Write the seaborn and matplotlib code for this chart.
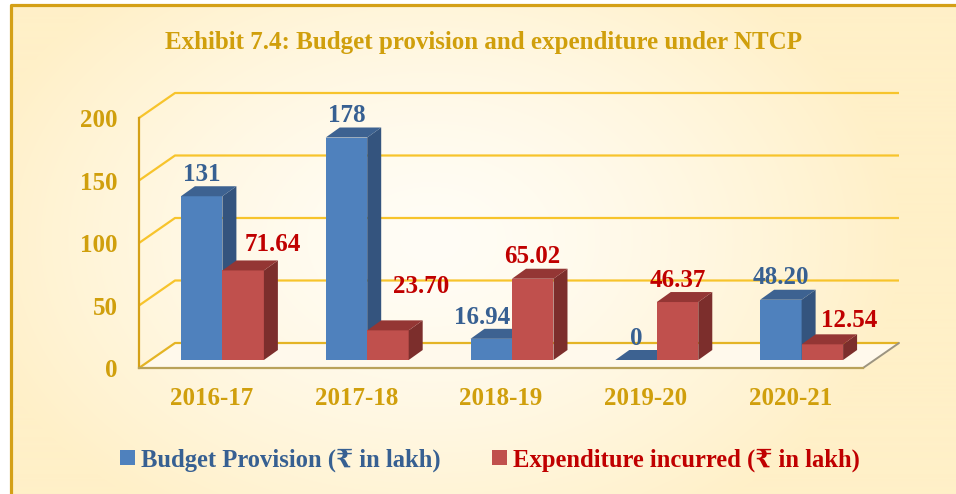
"""
Exhibit 7.4: Budget provision and expenditure under NTCP
Pseudo-3D clustered bars (Excel style) built on top of a seaborn barplot.
"""

import numpy as np
import pandas as pd
import matplotlib.pyplot as plt
import seaborn as sns
from matplotlib.patches import Polygon, Rectangle

# =============================================================================
# DATA
# =============================================================================
years = ["2016-17", "2017-18", "2018-19", "2019-20", "2020-21"]
budget = [131, 178, 16.94, 0, 48.20]
expenditure = [71.64, 23.70, 65.02, 46.37, 12.54]
budget_text = ["131", "178", "16.94", "0", "48.20"]
expend_text = ["71.64", "23.70", "65.02", "46.37", "12.54"]
series = ["Budget Provision (₹ in lakh)", "Expenditure incurred (₹ in lakh)"]
y_ticks = [0, 50, 100, 150, 200]
title = "Exhibit 7.4: Budget provision and expenditure under NTCP"

# hand-placed label nudges from the source chart (pixels)
budget_nudge = [(0, -2), (0, -2), (-9, -3), (0, -2), (0, -2)]
expend_nudge = [(30, 2), (33, 20), (0, -2), (0, -2), (27, 0)]

# =============================================================================
# STYLE
# =============================================================================
GOLD = "#D09F0C"
GRID = "#F7C42C"
BLUE, BLUE_SIDE, BLUE_TOP = "#4F81BD", "#34547E", "#3D6291"
RED, RED_SIDE, RED_TOP = "#C0504D", "#7C2E2C", "#943634"
BLUE_TXT, RED_TXT = "#376092", "#C00000"
FS = 18

W, H, DPI = 956, 494, 100
sns.set_style("white")
plt.rcParams["font.family"] = ["Liberation Serif", "DejaVu Serif", "DejaVu Sans"]
plt.rcParams["font.weight"] = "bold"

fig = plt.figure(figsize=(W / DPI, H / DPI), dpi=DPI)

# background: cream panel with a soft light centre and a gold frame
bg = fig.add_axes([0, 0, 1, 1], zorder=-10)
yy, xx = np.mgrid[0:H, 0:W]
r = np.sqrt(((xx - 430) / 470) ** 2 + ((yy - 240) / 330) ** 2)
t = np.clip(r, 0, 1)[..., None] ** 1.4
c_in = np.array([255, 253, 246]) / 255
c_out = np.array([255, 240, 200]) / 255
img = c_in * (1 - t) + c_out * t
img[(xx < 11) | (yy < 5)] = 1.0
bg.imshow(img, extent=(0, W, H, 0), aspect="auto")
bg.plot([11.5, 11.5, W + 5], [H + 5, 5.5, 5.5], color="#D4A017", lw=2.3)
bg.set_xlim(0, W)
bg.set_ylim(H, 0)
bg.axis("off")

# front plane of the chart
x0_px, x1_px, y0_px, y1_px = 139, 863, 368, 118
ax = fig.add_axes([x0_px / W, 1 - y0_px / H, (x1_px - x0_px) / W, (y0_px - y1_px) / H])
ax.patch.set_alpha(0)

df = pd.DataFrame({
    "Year": years * 2,
    "Value": budget + expenditure,
    "Series": [series[0]] * len(years) + [series[1]] * len(years),
})
sns.barplot(data=df, x="Year", y="Value", hue="Series", palette=[BLUE, RED],
            width=0.573, saturation=1, errorbar=None, linewidth=0, legend=False, ax=ax)

ax.set_xlim(-0.5, len(years) - 0.5)
ax.set_ylim(0, 200)
ppx = (x1_px - x0_px) / len(years)   # pixels per category
ppy = (y0_px - y1_px) / 200          # pixels per unit

# depth offsets in data units
shift = (11 / ppx, 8 / ppy)      # bars sit slightly behind the front edge
depth = (14 / ppx, 10 / ppy)     # bar depth
wall = (36 / ppx, 25 / ppy)      # back wall

# back wall grid + floor
xl, xr = -0.5, len(years) - 0.5
floor = Polygon([(xl, 0), (xr, 0), (xr + wall[0], wall[1]), (xl + wall[0], wall[1])],
                closed=True, fc="#FFF9EC", ec="none", zorder=0.5, clip_on=False)
ax.add_patch(floor)
for v in y_ticks:
    ax.plot([xl, xl + wall[0], xr + wall[0]], [v, v + wall[1], v + wall[1]],
            color=GRID if v else "#E4B425", lw=1.6, zorder=1, clip_on=False,
            solid_capstyle="butt")
ax.plot([xr, xr + wall[0]], [0, wall[1]], color="#9C9480", lw=1.4, zorder=1, clip_on=False)

# 3D faces on each bar
faces = [(BLUE_SIDE, BLUE_TOP), (RED_SIDE, RED_TOP)]
bar_pos = [[], []]
for j, cont in enumerate(ax.containers):
    side_c, top_c = faces[j]
    for i, p in enumerate(cont.patches):
        bx = p.get_x() + shift[0]
        p.set_x(bx)
        p.set_y(shift[1])
        w, h = p.get_width(), p.get_height()
        top = shift[1] + h
        z = 3 + i * 0.2 + j * 0.1
        p.set_zorder(z)
        p.set_clip_on(False)
        side = Polygon([(bx + w, shift[1]), (bx + w, top), (bx + w + depth[0], top + depth[1]),
                        (bx + w + depth[0], shift[1] + depth[1])],
                       closed=True, fc=side_c, ec="none", zorder=z, clip_on=False)
        cap = Polygon([(bx, top), (bx + w, top), (bx + w + depth[0], top + depth[1]),
                       (bx + depth[0], top + depth[1])],
                      closed=True, fc=top_c, ec="none", zorder=z, clip_on=False)
        ax.add_patch(side)
        ax.add_patch(cap)
        bar_pos[j].append((bx + w / 2, top))

# data labels
for j, (texts, nudges, col) in enumerate([(budget_text, budget_nudge, BLUE_TXT),
                                           (expend_text, expend_nudge, RED_TXT)]):
    for (cx, top), s, (nx, ny) in zip(bar_pos[j], texts, nudges):
        ax.annotate(s, xy=(cx, top), xytext=(nx * 0.72, (24 + ny) * 0.72),
                    textcoords="offset points", ha="center", va="center",
                    fontsize=FS, fontweight="bold", color=col, zorder=10,
                    annotation_clip=False)

# axes
for s in ["top", "right"]:
    ax.spines[s].set_visible(False)
ax.spines["left"].set_color("#D4A017")
ax.spines["left"].set_linewidth(1.6)
ax.spines["bottom"].set_color("#B9A25A")
ax.spines["bottom"].set_linewidth(1.6)
ax.set_yticks(y_ticks)
ax.set_xticks(range(len(years)))
ax.set_xticklabels(years)
ax.set_xticks(np.arange(-0.5, len(years)), minor=True)
ax.tick_params(axis="y", direction="out", length=4.3, width=1.4, color="#D4A017",
               pad=11, labelsize=FS, labelcolor=GOLD)
ax.tick_params(axis="x", which="major", length=0, pad=14, labelsize=FS, labelcolor=GOLD)
ax.tick_params(axis="x", which="minor", direction="out", length=5, width=1.4, color="#D4A017")
for lab in ax.get_xticklabels() + ax.get_yticklabels():
    lab.set_fontweight("bold")
ax.set_xlabel("")
ax.set_ylabel("")
ax.grid(False)

# title
fig.text(484 / W, 1 - 42 / H, title, ha="center", va="center", fontsize=FS,
         fontweight="bold", color=GOLD)

# legend
handles = [Rectangle((0, 0), 1, 1, fc=BLUE, ec="none"), Rectangle((0, 0), 1, 1, fc=RED, ec="none")]
leg = fig.legend(handles, series, loc="center", bbox_to_anchor=(490 / W, 1 - 460 / H),
                 ncol=2, frameon=False, fontsize=17.7, handlelength=0.6, handleheight=0.6,
                 handletextpad=0.25, columnspacing=2.1, borderaxespad=0)
for txt, col in zip(leg.get_texts(), [BLUE_TXT, RED_TXT]):
    txt.set_color(col)
    txt.set_fontweight("bold")

fig.savefig("out.png", dpi=DPI)
